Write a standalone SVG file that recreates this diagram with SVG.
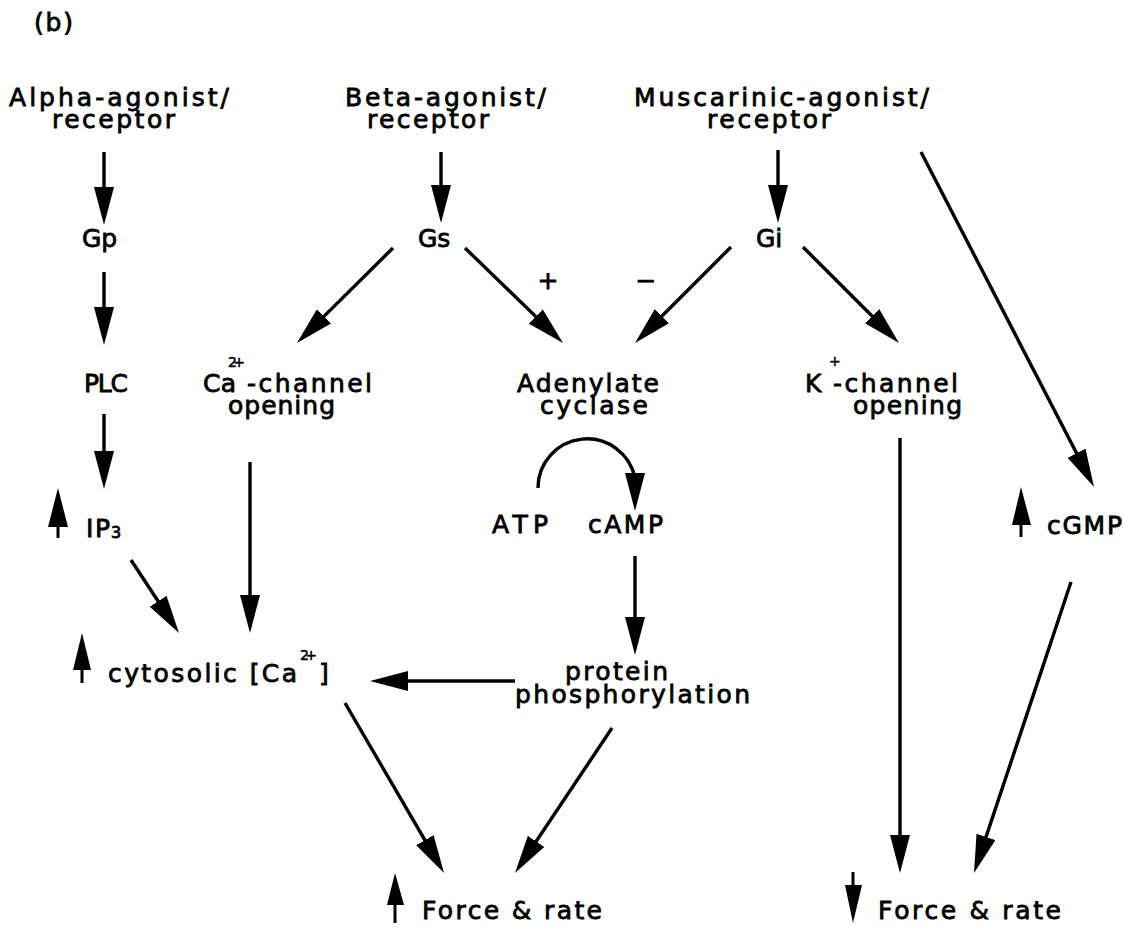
<svg xmlns="http://www.w3.org/2000/svg" width="1124" height="930" viewBox="0 0 1124 930">
<style>
.t{font-family:"DejaVu Sans","Liberation Sans",sans-serif;font-size:25px;fill:#000;stroke:#000;stroke-width:0.8}
.s{font-size:14px;stroke-width:0.5}
.c line,.c path{stroke:#000;stroke-width:3.4;fill:none;marker-end:url(#ah)}
.ind line{stroke:#000;stroke-width:3}
.ind polygon{fill:#000}
</style>
<defs>
<marker id="ah" markerUnits="userSpaceOnUse" viewBox="0 0 38 20" markerWidth="38" markerHeight="20" refX="26" refY="10" orient="auto">
<path d="M0,0 L38,10 L0,20 z" fill="#000"/>
</marker>
</defs>
<rect width="1124" height="930" fill="#fff"/>

<g id="label-b"><text class="t" x="34" y="31" textLength="39">(b)</text></g>

<g id="alpha"><text class="t" x="9" y="106" textLength="220">Alpha-agonist/</text><text class="t" x="52" y="128" textLength="123">receptor</text></g>
<g id="beta"><text class="t" x="345" y="106" textLength="201">Beta-agonist/</text><text class="t" x="367" y="128" textLength="122">receptor</text></g>
<g id="muscarinic"><text class="t" x="634" y="106" textLength="295">Muscarinic-agonist/</text><text class="t" x="707" y="128" textLength="124">receptor</text></g>

<g id="gp"><text class="t" x="82" y="247">Gp</text></g>
<g id="gs"><text class="t" x="418" y="247">Gs</text></g>
<g id="gi"><text class="t" x="756" y="247">Gi</text></g>

<g id="sign-plus"><text class="t" x="548" y="289" text-anchor="middle">+</text></g>
<g id="sign-minus"><text class="t" x="646" y="289" text-anchor="middle">−</text></g>

<g id="plc"><text class="t" x="84" y="392" textLength="44">PLC</text></g>
<g id="ca-channel"><text class="t" x="203" y="392" textLength="33">Ca</text><text class="t s" x="228" y="367" textLength="17">2+</text><text class="t" x="247" y="392" textLength="125">-channel</text><text class="t" x="228" y="414" textLength="107">opening</text></g>
<g id="adenylate-cyclase"><text class="t" x="517" y="392" textLength="142">Adenylate</text><text class="t" x="540" y="414" textLength="108">cyclase</text></g>
<g id="k-channel"><text class="t" x="805" y="392" textLength="16">K</text><text class="t s" x="829" y="366">+</text><text class="t" x="833" y="392" textLength="125">-channel</text><text class="t" x="853" y="414" textLength="109">opening</text></g>

<g id="ip3" class="ind"><line x1="58" y1="538" x2="58" y2="520"/><polygon points="58,488 48,527 68,527"/><text class="t" x="86" y="537" textLength="24">IP</text><text class="t" x="111" y="538" style="font-size:16px" textLength="12">3</text></g>
<g id="atp"><text class="t" x="492" y="533" textLength="56">ATP</text></g>
<g id="camp"><text class="t" x="588" y="533" textLength="75">cAMP</text></g>
<g id="cgmp" class="ind"><line x1="1021" y1="537" x2="1021" y2="520"/><polygon points="1021,487 1012,525 1031,525"/><text class="t" x="1047" y="534" textLength="75">cGMP</text></g>

<g id="cytosolic-ca" class="ind"><line x1="82" y1="683" x2="82" y2="665"/><polygon points="82,633 73,670 91,670"/><text class="t" x="108" y="682" textLength="189">cytosolic [Ca</text><text class="t s" x="300" y="660" textLength="17">2+</text><text class="t" x="319" y="682">]</text></g>
<g id="protein-phosphorylation"><text class="t" x="565" y="680" textLength="103">protein</text><text class="t" x="515" y="703" textLength="235">phosphorylation</text></g>

<g id="force-up" class="ind"><line x1="395" y1="923" x2="395" y2="900"/><polygon points="395,873 387,905 404,905"/><text class="t" x="422" y="919" textLength="180">Force &amp; rate</text></g>
<g id="force-down" class="ind"><line x1="853" y1="872" x2="853" y2="890"/><polygon points="845,885 862,885 853,923"/><text class="t" x="878" y="919" textLength="183">Force &amp; rate</text></g>

<g id="connectors" class="c">
<line x1="104" y1="152" x2="104" y2="213"/>
<line x1="104" y1="272" x2="104" y2="333"/>
<line x1="104" y1="414" x2="104" y2="477"/>
<line x1="441" y1="152" x2="441" y2="211"/>
<line x1="778" y1="150" x2="778" y2="211"/>
<line x1="393" y1="248" x2="305.5" y2="334.6"/>
<line x1="465" y1="248" x2="554.4" y2="334.6"/>
<line x1="731" y1="247" x2="643.5" y2="334.5"/>
<line x1="803" y1="247" x2="890.5" y2="334.5"/>
<line x1="921" y1="152" x2="1088.5" y2="476.3"/>
<line x1="250" y1="462" x2="250" y2="621"/>
<line x1="131" y1="560" x2="172.4" y2="623"/>
<path d="M538,488 A49,49 0 0 1 635,478 L635,499"/>
<line x1="635" y1="556" x2="635" y2="643"/>
<line x1="515" y1="681" x2="382" y2="681"/>
<line x1="345" y1="703" x2="438" y2="862.6"/>
<line x1="612" y1="728" x2="521.7" y2="863"/>
<line x1="900" y1="438" x2="900" y2="861"/>
<line x1="1071" y1="582" x2="977.8" y2="861.6"/>
</g>
</svg>
